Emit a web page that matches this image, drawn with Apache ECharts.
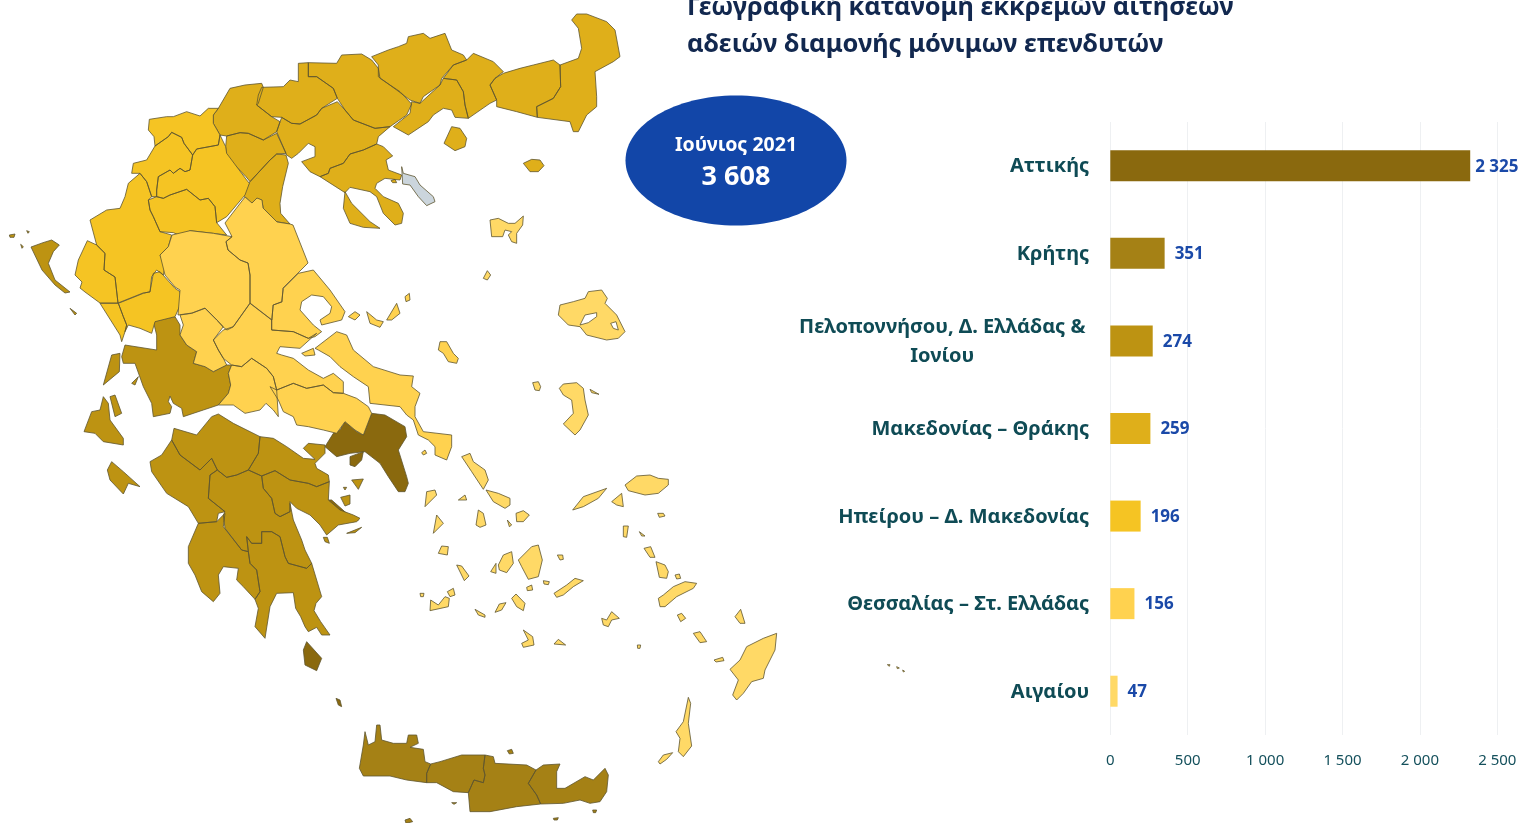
<!DOCTYPE html>
<html>
<head>
<meta charset="utf-8">
<title>Γεωγραφική κατανομή</title>
<script src="https://cdn.jsdelivr.net/npm/echarts@6/dist/echarts.min.js"></script>
<style>
  html, body { margin: 0; background: #fff; }
  #main { width: 1523px; height: 823px; }
</style>
</head>
<body>
<div id="main"></div>
<script>
var titleText = 'Γεωγραφική κατανομή εκκρεμών αιτήσεων\nαδειών διαμονής μόνιμων επενδυτών';
var periodLabel = 'Ιούνιος 2021';
var periodTotal = '3 608';

var categories = ['Αττικής', 'Κρήτης', 'Πελοποννήσου, Δ. Ελλάδας &\nΙονίου', 'Μακεδονίας – Θράκης', 'Ηπείρου – Δ. Μακεδονίας', 'Θεσσαλίας – Στ. Ελλάδας', 'Αιγαίου'];
var values = [2325, 351, 274, 259, 196, 156, 47];
var colors = ['#8a690e', '#a58115', '#bd9312', '#dfaf1a', '#f5c423', '#ffd24f', '#ffd966'];
var xTicks = [0, 500, 1000, 1500, 2000, 2500];
var font = '"Noto Sans", sans-serif';

// outlines, in crop coordinates: [cropX, cropY, 'x,y x,y ...', holes] at 3x
var outlines = {
  'Αττικής': [
    [60, 270, '795,530 820,490 840,480 855,455 890,485 910,495 935,430 975,435 1035,470 1040,500 1015,540 1040,620 1045,640 1035,665 1015,665 985,620 960,580 915,545 870,550 830,560'],
    [60, 270, '870,560 910,545 905,570 885,590 870,585'],
    [60, 270, '805,690 815,690 860,730 895,750 880,755 820,720'],
    [130, 400, '520,750 530,725 575,775 560,812 525,795'],
    [330, 660, '18,115 30,120 35,140 25,135']
  ],
  'Κρήτης': [
    [330, 660, '88,325 100,255 105,215 115,255 135,245 140,195 150,195 155,240 190,250 230,250 235,225 260,225 265,250 240,262 280,268 285,305 302,312 290,340 290,368 230,360 180,348 100,348'],
    [330, 660, '290,368 290,340 302,312 330,305 395,285 465,285 460,325 465,345 460,368 432,360 415,398 370,395 320,368'],
    [330, 660, '465,285 490,290 495,310 590,315 618,330 595,370 620,405 632,432 560,440 480,455 420,455 415,398 432,360 460,368 465,345 460,325'],
    [330, 660, '618,330 640,315 690,312 680,335 680,385 705,385 765,350 790,360 825,325 835,345 830,395 810,425 780,430 750,420 700,430 632,432 620,405 595,370'],
    [330, 660, '225,480 240,475 248,485 228,490'],
    [330, 660, '532,272 545,268 550,280 538,282'],
    [330, 660, '788,450 800,450 797,458 790,458'],
    [330, 660, '670,475 685,473 682,480 672,480'],
    [330, 660, '365,428 380,428 372,433']
  ],
  'Πελοποννήσου, Δ. Ελλάδας &\nΙονίου': [
    [130, 400, '125,120 132,85 200,105 245,50 265,42 310,70 390,110 385,160 355,210 320,225 290,232 262,210 245,175 210,210 150,165'],
    [130, 400, '390,110 430,115 470,140 520,175 555,178 520,145 535,130 585,135 585,160 555,190 560,205 595,225 598,245 560,260 535,250 480,240 435,212 395,228 355,210 385,160'],
    [130, 400, '125,120 150,165 210,210 245,175 262,210 240,225 235,295 285,335 265,340 260,365 205,370 175,320 110,280 65,215 60,185 95,165'],
    [130, 400, '240,225 262,210 290,232 320,225 355,210 395,228 400,265 425,295 435,340 450,350 480,335 480,310 490,360 515,420 525,450 545,490 530,505 475,490 465,470 450,410 425,395 395,395 395,430 365,430 350,410 355,455 335,450 285,385 280,345 285,335 235,295'],
    [130, 400, '395,228 435,212 480,240 535,250 560,260 598,245 595,300 630,330 670,345 690,355 680,365 625,375 590,405 570,375 540,345 500,325 480,305 480,335 450,350 435,340 425,295 400,265'],
    [130, 400, '205,370 260,365 285,340 280,380 335,450 355,455 360,490 380,510 390,575 375,598 340,560 320,540 325,505 280,500 265,525 270,580 250,605 215,575 195,525 175,490 175,440'],
    [130, 400, '350,410 365,430 395,430 395,395 425,395 450,410 465,470 475,490 530,505 545,490 575,590 558,610 552,632 572,665 600,705 575,705 560,682 535,695 525,680 512,650 497,625 490,578 440,580 420,620 405,715 375,680 385,625 375,598 390,575 380,510 360,490 355,455'],
    [60, 270, '185,260 195,225 290,240 290,195 280,155 345,140 360,165 360,195 380,225 410,245 400,280 435,290 460,305 500,285 515,285 505,310 512,345 505,370 475,405 430,420 370,440 365,415 340,400 330,378 325,395 335,410 330,430 280,440 275,400 250,350 225,280 190,280'],
    [60, 270, '130,345 155,255 180,250 178,305'],
    [60, 270, '72,485 95,425 120,420 130,380 145,400 150,450 190,505 190,525 130,515 105,490'],
    [60, 270, '150,380 165,375 185,430 165,440'],
    [60, 270, '142,600 155,575 190,605 240,650 205,640 190,672 150,630'],
    [0, 0, '93,741 129,728 155,720 178,735 160,755 145,790 165,840 210,876 195,879 165,855 126,810'],
    [0, 0, '28,705 45,702 42,712 30,712'],
    [0, 0, '80,692 88,695 84,700'],
    [0, 0, '62,733 70,740 66,745'],
    [60, 270, '30,115 50,130 45,135'],
    [60, 270, '215,340 235,320 225,345'],
    [130, 400, '665,240 700,237 685,268'],
    [130, 400, '650,400 695,382 675,398'],
    [130, 400, '580,412 592,412 598,430 585,425'],
    [130, 400, '632,292 660,285 660,312 645,318'],
    [130, 400, '640,262 650,262 645,270']
  ],
  'Μακεδονίας – Θράκης': [
    [0, 0, '655,325 690,265 735,255 785,250 790,262 775,310 770,315 815,350 840,365 830,395 790,420 745,400 720,398 680,408 660,405 640,370 640,345'],
    [0, 0, '785,262 850,260 870,240 895,245 895,190 925,188 925,230 950,230 1000,265 1012,295 965,325 950,345 900,372 875,370 845,352 815,350 770,315 775,285'],
    [0, 0, '925,188 1010,190 1025,165 1085,162 1115,180 1135,205 1140,235 1200,275 1235,312 1220,345 1170,380 1125,385 1060,360 1035,330 1012,295 1000,265 950,230 925,230'],
    [0, 0, '830,395 845,352 875,370 900,372 950,345 965,325 1012,305 1035,330 1060,360 1125,385 1170,380 1135,410 1130,432 1090,450 1050,462 1030,490 990,505 985,520 960,530 930,515 905,485 945,470 945,440 925,430 895,460 875,475 860,465'],
    [320, 0, '0,530 25,520 30,505 70,490 90,462 130,450 170,432 190,440 218,468 198,480 205,510 245,525 240,540 195,535 170,550 165,565 190,590 235,610 250,640 245,670 225,675 190,640 170,590 150,575 90,562 75,578'],
    [320, 0, '75,575 95,610 150,665 180,685 130,682 90,670 70,625'],
    [0, 0, '680,408 720,398 745,400 790,420 830,400 858,460 830,462 810,480 750,545 738,530 680,470 677,440'],
    [0, 0, '750,545 810,480 830,462 858,465 865,490 848,560 840,610 842,640 870,672 830,665 790,625 785,600 770,595 755,610 735,590 730,585'],
    [320, 0, '155,170 205,150 235,140 260,130 265,110 310,100 330,115 375,100 395,150 430,165 440,180 400,195 365,235 360,255 310,290 300,310 270,300 230,270 175,230 175,195'],
    [320, 0, '220,380 270,340 275,305 300,310 360,255 370,235 410,240 430,275 435,315 445,355 405,352 395,330 370,325 340,345 325,365 265,405'],
    [320, 0, '400,195 440,180 460,160 520,185 550,215 525,235 510,255 530,300 510,310 445,355 435,315 430,275 410,240 370,235'],
    [320, 0, '550,220 600,205 640,195 700,180 720,195 722,260 700,295 650,320 652,352 590,335 530,320 530,300 510,255 525,235'],
    [320, 0, '720,195 775,175 785,145 775,85 755,60 770,42 800,42 860,65 885,90 900,170 880,185 825,215 830,290 830,320 800,345 775,395 760,395 750,365 652,352 650,320 700,295 722,260'],
    [320, 0, '372,430 395,380 420,385 440,415 435,440 405,452'],
    [320, 0, '610,490 635,478 660,480 672,497 655,515 630,515'],
    [320, 0, '213,542 225,538 230,548 218,548']
  ],
  'Ηπείρου – Δ. Μακεδονίας': [
    [0, 0, '448,358 500,350 520,350 560,335 600,348 625,325 655,325 640,345 640,370 660,405 655,435 590,447 578,465 552,430 545,412 515,397 505,410 465,438 462,410 445,390'],
    [0, 0, '465,438 505,410 515,397 545,412 552,430 578,465 570,510 555,515 540,505 520,520 510,510 475,530 470,570 470,590 455,590 440,545 420,520 395,520 400,490 440,480'],
    [0, 0, '578,465 590,447 655,435 660,405 677,440 680,460 740,540 748,550 735,585 680,650 650,668 645,620 625,595 600,600 560,568 510,585 490,595 470,590 470,570 475,530 510,510 520,520 540,505 555,515 570,510'],
    [0, 0, '445,600 470,590 490,595 510,585 560,568 600,600 625,595 645,620 650,668 680,705 640,700 570,692 545,708 520,698 480,695 460,650 450,630'],
    [0, 0, '420,520 440,545 455,590 445,600 450,630 460,650 480,695 515,705 505,740 480,765 495,800 490,825 470,810 455,830 450,876 429,879 354,909 345,831 312,810 315,760 290,735 270,660 320,630 360,625 375,590 385,550'],
    [0, 0, '262,722 290,735 315,760 312,810 345,831 354,909 300,909 255,876 240,864 246,846 225,825 235,780'],
    [60, 270, '120,100 175,100 190,140 200,165 195,185 185,215 180,195'],
    [60, 270, '175,100 250,70 270,65 280,10 300,5 345,55 360,65 365,95 345,140 285,155 275,190 240,175 205,165 195,185 200,165 190,140']
  ],
  'Θεσσαλίας – Στ. Ελλάδας': [
    [0, 0, '516,705 570,692 640,700 696,710 678,725 684,750 720,780 744,789 750,825 750,909 699,981 681,990 669,981 651,960 615,924 576,939 534,945 540,870 525,861 495,825 480,765 505,740'],
    [0, 0, '675,669 735,591 756,609 771,594 786,600 789,624 831,666 870,672 879,675 924,789 894,819 849,864 846,906 819,915 816,960 750,909 750,825 744,789 720,780 684,750 678,725 696,710'],
    [60, 270, '715,10 760,0 810,60 855,125 845,150 785,165 780,150 810,130 815,110 790,80 755,75 725,95 720,120 760,165 785,185 765,200 745,205 700,185 635,180 635,150 640,105 665,95 670,55'],
    [60, 270, '460,210 490,180 520,170 570,100 635,150 635,180 700,185 745,205 770,190 720,235 660,230 650,250 665,255 700,265 745,300 790,325 820,310 850,335 850,370 820,368 790,345 740,355 700,340 650,360 640,320 620,295 575,265 545,290 515,285 490,265 475,240'],
    [60, 270, '360,135 395,130 435,115 470,150 490,170 460,210 475,240 490,265 500,285 460,305 435,290 400,280 410,245 380,225 360,195 370,165'],
    [60, 270, '515,285 545,290 575,265 620,295 640,320 650,360 655,440 640,420 618,400 600,420 555,430 520,405 475,405 505,370 512,345 505,310'],
    [60, 270, '630,350 650,360 700,340 740,355 790,345 820,368 850,370 890,385 925,410 935,430 910,495 885,480 855,455 830,490 790,480 745,470 710,465 700,440 670,425 655,390'],
    [60, 270, '765,235 830,185 860,195 880,240 940,290 1020,315 1060,318 1055,350 1080,370 1065,410 1065,440 1090,485 1175,495 1175,530 1160,570 1125,555 1125,530 1105,510 1075,495 1060,450 1040,435 1020,410 930,400 925,350 880,320 840,290 810,260 775,240'],
    [60, 270, '725,250 760,235 765,255 735,258'],
    [60, 270, '865,140 885,125 900,135 885,150'],
    [60, 270, '920,125 950,150 970,155 960,172 930,160'],
    [60, 270, '980,150 1010,100 1020,130 995,150'],
    [60, 270, '1035,80 1048,70 1050,90 1038,95'],
    [60, 270, '1140,215 1160,215 1180,250 1195,265 1190,280 1165,275 1150,250 1135,240'],
    [60, 270, '1085,548 1095,540 1100,550 1090,555']
  ],
  'Αιγαίου': [
    [400, 200, '270,60 295,55 325,70 345,70 370,48 368,75 350,100 350,130 335,125 325,105 335,95 315,90 308,110 275,110'],
    [400, 200, '250,235 262,212 272,225 262,240'],
    [400, 200, '475,345 480,315 520,305 555,295 565,275 605,270 622,295 615,310 650,345 675,395 655,415 620,420 560,405 540,380 505,375',
      ['540,375 565,368 590,350 590,338 555,345', '632,370 640,385 655,390 648,365']],
    [400, 200, '478,565 490,552 530,548 550,565 555,600 565,645 540,690 525,705 490,672 520,640 515,600 490,585'],
    [400, 200, '398,548 415,545 422,560 418,572 405,570'],
    [400, 200, '570,568 597,583 575,578'],
    [410, 450, '645,105 680,78 720,75 745,85 775,88 775,105 745,130 705,135 655,122'],
    [410, 450, '488,180 520,140 590,115 565,145 520,170'],
    [410, 450, '605,155 635,130 640,170 620,165'],
    [410, 450, '155,20 180,10 190,35 225,60 235,90 220,118 185,65'],
    [410, 450, '228,120 265,130 300,145 300,165 285,175 250,155'],
    [410, 450, '45,170 50,125 75,120 80,135'],
    [410, 450, '70,250 80,195 100,220'],
    [410, 450, '85,310 95,288 115,290 112,315'],
    [410, 450, '140,345 155,348 177,378 163,392'],
    [410, 450, '60,482 62,450 85,465 105,440 118,445 115,470'],
    [410, 450, '112,425 130,415 135,435 120,440'],
    [410, 450, '195,478 225,495 225,502 205,495'],
    [410, 450, '255,487 268,462 288,458 275,480'],
    [410, 450, '305,445 318,432 345,460 340,482 320,470'],
    [410, 450, '340,540 368,560 372,585 340,592 335,580 355,570'],
    [410, 450, '432,582 445,568 467,585'],
    [410, 450, '432,430 470,405 495,385 520,392 490,410 460,435 440,442'],
    [410, 450, '325,330 365,290 385,285 397,330 385,380 355,388 335,350'],
    [410, 450, '265,345 280,315 305,305 310,340 290,368 268,360'],
    [410, 450, '242,365 258,340 258,370'],
    [410, 450, '198,225 205,180 220,190 228,225 210,232'],
    [410, 450, '318,190 340,182 358,195 340,215 320,215'],
    [410, 450, '292,210 305,225 298,230'],
    [410, 450, '145,150 165,135 170,150'],
    [410, 450, '442,315 458,315 460,328 450,330'],
    [410, 450, '350,412 365,405 368,420 352,422'],
    [410, 450, '400,392 418,395 415,404 402,402'],
    [410, 450, '575,505 590,510 605,485 628,505 605,510 595,530 580,525'],
    [410, 450, '745,445 760,435 790,410 825,395 860,400 850,415 800,440 765,470 750,470'],
    [410, 450, '738,335 765,345 775,365 770,385 748,382'],
    [410, 450, '702,295 722,290 735,322 720,322'],
    [410, 450, '640,228 655,228 650,262 640,260'],
    [410, 450, '688,245 705,258 695,258'],
    [410, 450, '743,190 760,190 765,198 748,202'],
    [410, 450, '795,375 808,372 812,385 800,387'],
    [410, 450, '802,495 815,490 827,505 812,515'],
    [410, 450, '850,550 870,545 890,575 870,578'],
    [410, 450, '975,500 992,478 1005,520 990,520'],
    [410, 450, '960,658 990,630 1010,590 1060,565 1100,550 1095,600 1065,660 1060,685 1025,695 1000,730 980,750 968,735 985,690'],
    [410, 450, '912,630 938,622 942,632 918,636'],
    [410, 450, '30,430 42,430 40,440 32,440'],
    [410, 450, '682,585 692,585 690,595 683,595'],
    [330, 660, '1075,112 1082,130 1075,190 1085,258 1060,290 1045,275 1050,235 1038,215 1060,185'],
    [330, 660, '985,305 1000,285 1028,278 1010,298 990,312'],
    [880, 660, '22,14 30,14 28,19'],
    [880, 660, '50,20 58,24 52,26'],
    [880, 660, '68,30 74,34 70,36']
  ]
};

// crop coordinates back to page pixels
function toRing(ox, oy, text) {
  var pts = text.split(' ').map(function (p) {
    var xy = p.split(',');
    return [ox + xy[0] / 3, oy + xy[1] / 3];
  });
  pts.push(pts[0]);
  return pts;
}

function toPolygon(item) {
  var rings = [toRing(item[0], item[1], item[2])];
  (item[3] || []).forEach(function (hole) {
    rings.push(toRing(item[0], item[1], hole));
  });
  return rings;
}

var features = Object.keys(outlines).map(function (name) {
  return {
    type: 'Feature',
    properties: { name: name },
    geometry: { type: 'MultiPolygon', coordinates: outlines[name].map(toPolygon) }
  };
});
features.push({
  type: 'Feature',
  properties: { name: 'Άγιο Όρος' },
  geometry: { type: 'MultiPolygon', coordinates: [toPolygon([320, 0, '245,500 250,520 285,530 300,555 340,590 345,605 320,617 295,590 270,555 248,552'])] }
});
echarts.registerMap('greece', { type: 'FeatureCollection', features: features });

var regionStyles = categories.map(function (name, i) {
  return { name: name, itemStyle: { areaColor: colors[i] } };
});
regionStyles.push({ name: 'Άγιο Όρος', itemStyle: { areaColor: '#cbd5dc' } });

var myChart = echarts.init(document.getElementById('main'), null, { renderer: 'canvas' });
var pixelProjection = {
  project: function (p) { return p; },
  unproject: function (p) { return p; }
};

var option = {
  animation: false,
  backgroundColor: '#fff',
  title: {
    text: titleText,
    left: 687,
    top: -11,
    padding: 0,
    textStyle: { color: '#12284f', fontFamily: font, fontSize: 25.4, fontWeight: 'bold', lineHeight: 37 }
  },
  geo: {
    map: 'greece',
    projection: pixelProjection,
    boundingCoords: [[0, 0], [1523, 823]],
    left: 0,
    top: 0,
    width: 1523,
    height: 823,
    roam: false,
    silent: true,
    label: { show: false },
    itemStyle: { borderColor: '#5e5530', borderWidth: 0.8 },
    emphasis: { disabled: true },
    regions: regionStyles
  },
  grid: { left: 1110.3, top: 122, width: 387, height: 613, containLabel: false },
  xAxis: {
    type: 'value',
    min: 0,
    max: 2500,
    interval: 500,
    axisLine: { show: false },
    axisTick: { show: false },
    splitLine: { lineStyle: { color: '#eef0f2', width: 1 } },
    axisLabel: {
      color: '#14505c',
      fontFamily: font,
      fontSize: 15,
      margin: 18,
      formatter: function (v) { return xTicks.indexOf(v) >= 0 ? String(v).replace(/\B(?=(\d{3})+$)/g, ' ') : ''; }
    }
  },
  yAxis: {
    type: 'category',
    inverse: true,
    data: categories,
    axisLine: { show: false },
    axisTick: { show: false },
    axisLabel: {
      color: '#0f4b55',
      fontFamily: font,
      fontSize: 20,
      fontWeight: 'bold',
      margin: 21,
      padding: [2, 0, 0, 0],
      formatter: function (v) {
        var parts = v.split('\n');
        return parts.length > 1 ? '{a|' + parts[0] + '}\n{a|' + parts[1] + '}' : v;
      },
      rich: {
        a: { width: 286, align: 'center', padding: [0, 4, 0, 0], color: '#0f4b55', fontFamily: font, fontSize: 20, fontWeight: 'bold', lineHeight: 29 }
      }
    }
  },
  series: [
    {
      type: 'bar',
      barWidth: 31,
      data: values.map(function (v, i) {
        return {
          value: v,
          itemStyle: { color: colors[i] },
          label: { distance: i === 0 ? 5 : 10 }
        };
      }),
      label: {
        show: true,
        position: 'right',
        offset: [0, 1],
        color: '#1a49a8',
        fontFamily: font,
        fontSize: 17,
        fontWeight: 'bold',
        formatter: function (p) { return String(p.value).replace(/\B(?=(\d{3})+$)/g, ' '); }
      }
    }
  ],
  graphic: [
    {
      type: 'ellipse',
      shape: { cx: 736, cy: 160.5, rx: 110.5, ry: 65 },
      style: { fill: '#1246a8' },
      silent: true
    },
    {
      type: 'text',
      x: 736,
      y: 145,
      silent: true,
      style: { text: periodLabel, fill: '#fff', font: 'bold 19.5px ' + font, textAlign: 'center', textVerticalAlign: 'middle' }
    },
    {
      type: 'text',
      x: 736,
      y: 177,
      silent: true,
      style: { text: periodTotal, fill: '#fff', font: 'bold 27px ' + font, textAlign: 'center', textVerticalAlign: 'middle' }
    }
  ]
};
option && myChart.setOption(option);
</script>
</body>
</html>
